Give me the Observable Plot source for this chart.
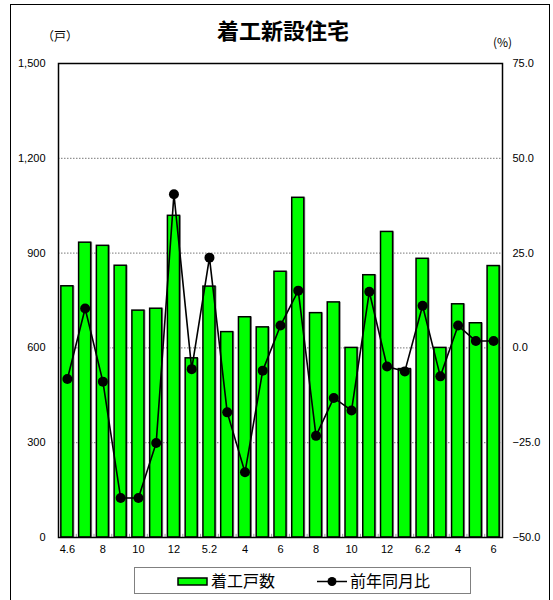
<!DOCTYPE html>
<html>
<head>
<meta charset="utf-8">
<script src="https://cdn.jsdelivr.net/npm/d3@7"></script>
<script src="https://cdn.jsdelivr.net/npm/@observablehq/plot@0.6"></script>
<style>
  html, body { margin: 0; padding: 0; background: #fff; }
  #wrap { position: relative; width: 553px; height: 600px; overflow: hidden; font-family: "Liberation Sans", Arial, sans-serif; }
  #border { position: absolute; left: 10px; top: 4px; width: 540px; height: 620px; border: 1.5px solid #000; box-sizing: border-box; }
  #title { position: absolute; left: 0; width: 566px; top: 15px; text-align: center; font-family: "Noto Sans CJK JP", sans-serif; font-weight: 700; font-size: 22px; line-height: 28px; }
  .unit { position: absolute; font-family: "Noto Sans CJK JP", sans-serif; font-size: 12px; line-height: 14px; }
  #legend { position: absolute; left: 134px; top: 567px; width: 337px; height: 27px; border: 1px solid #808080; box-sizing: border-box; font-family: "Noto Sans CJK JP", sans-serif; font-size: 16px; }
  #chart { position: absolute; left: 0; top: 0; }
</style>
</head>
<body>
<div id="wrap">
  <div id="chart"></div>
  <div id="border"></div>
  <div id="title">着工新設住宅</div>
  <div class="unit" style="left:42px; top:29px;">（戸）</div>
  <div class="unit" style="left:493px; top:35px;">(%)</div>
  <div id="legend"></div>
</div>
<script>
// Data
const categories = ["4.6","4.7","4.8","4.9","4.10","4.11","4.12","5.1","5.2","5.3","5.4","5.5","5.6","5.7","5.8","5.9","5.10","5.11","5.12","6.1","6.2","6.3","6.4","6.5","6.6"];
const units = [795,933,923,860,718,724,1018,567,794,650,697,665,841,1075,710,744,600,830,967,533,882,600,738,678,859];
const yoy = [-8.2,10.4,-8.9,-39.6,-39.6,-25.1,40.5,-5.6,23.8,-17.0,-32.8,-6.0,5.9,15.1,-23.2,-13.2,-16.5,14.8,-4.9,-6.2,11.1,-7.5,5.9,1.8,1.8];
const xTickCats = ["4.6","4.8","4.10","4.12","5.2","5.4","5.6","5.8","5.10","5.12","6.2","6.4","6.6"];
const xTickLabels = ["4.6","8","10","12","5.2","4","6","8","10","12","6.2","4","6"];
const leftTicks = [0,300,600,900,1200,1500];
const rightTickLabels = ["−50.0","−25.0","0.0","25.0","50.0","75.0"];
const gridTicks = [300,600,900,1200];
const seriesNames = ["着工戸数","前年同月比"];

// percent (right axis, -50..75) mapped onto units axis (0..1500)
const pctToUnits = p => 600 + p * 12;

const data = categories.map((c, i) => ({cat: c, units: units[i], yoy: yoy[i]}));

const W = 553, H = 600;
const mL = 58, mR = 51, mT = 63, mB = 63;
const step = (W - mL - mR) / categories.length;

const chart = Plot.plot({
  width: W,
  height: H,
  marginLeft: mL,
  marginRight: mR,
  marginTop: mT,
  marginBottom: mB,
  style: {fontFamily: "'Liberation Sans', Arial, sans-serif", fontSize: "11px", color: "#000", background: "transparent"},
  x: {type: "band", domain: categories, paddingInner: 0.32, paddingOuter: 0.16, round: false, label: null},
  y: {domain: [0, 1500], label: null},
  marks: [
    Plot.gridY(gridTicks, {stroke: "#777", strokeOpacity: 1, strokeWidth: 1, strokeDasharray: "1.5,1.5"}),
    Plot.barY(data, {x: "cat", y: "units", fill: "#9a9a9a", dx: 1.5}),
    Plot.barY(data, {x: "cat", y: "units", fill: "#00ff00", stroke: "#000", strokeWidth: 1.5}),
    Plot.ruleX(categories.slice(0, -1), {x: d => d, y1: 0, y2: 10, dx: step / 2, stroke: "#999", strokeWidth: 1}),
    Plot.line(data, {x: "cat", y: d => pctToUnits(d.yoy), stroke: "#000", strokeWidth: 1.6}),
    Plot.dot(data, {x: "cat", y: d => pctToUnits(d.yoy), r: 5, fill: "#000"}),
    Plot.frame({stroke: "#000", strokeWidth: 1.5}),
    Plot.axisY({anchor: "left", ticks: leftTicks, tickSize: 0, tickPadding: 13, tickFormat: d3.format(","), label: null}),
    Plot.axisY({anchor: "right", ticks: leftTicks, tickSize: 0, tickPadding: 10, tickFormat: (d, i) => rightTickLabels[leftTicks.indexOf(d)], label: null}),
    Plot.axisX({ticks: xTickCats, tickSize: 0, tickPadding: 8, tickFormat: d => xTickLabels[xTickCats.indexOf(d)], label: null})
  ]
});
document.getElementById("chart").appendChild(chart);

// Legend
const leg = d3.select("#legend");
const ls = leg.append("svg").attr("width", 335).attr("height", 25).style("position", "absolute").style("left", "0").style("top", "0");
ls.append("rect").attr("x", 43).attr("y", 10).attr("width", 29).attr("height", 7).attr("fill", "#00ff00").attr("stroke", "#000").attr("stroke-width", 1.5);
ls.append("text").attr("x", 76).attr("y", 19).attr("font-size", 16).attr("font-family", "'Noto Sans CJK JP', sans-serif").text(seriesNames[0]);
ls.append("line").attr("x1", 182).attr("x2", 212).attr("y1", 13.5).attr("y2", 13.5).attr("stroke", "#000").attr("stroke-width", 1.5);
ls.append("circle").attr("cx", 197).attr("cy", 13.5).attr("r", 4.5).attr("fill", "#000");
ls.append("text").attr("x", 215).attr("y", 19).attr("font-size", 16).attr("font-family", "'Noto Sans CJK JP', sans-serif").text(seriesNames[1]);
</script>
</body>
</html>
